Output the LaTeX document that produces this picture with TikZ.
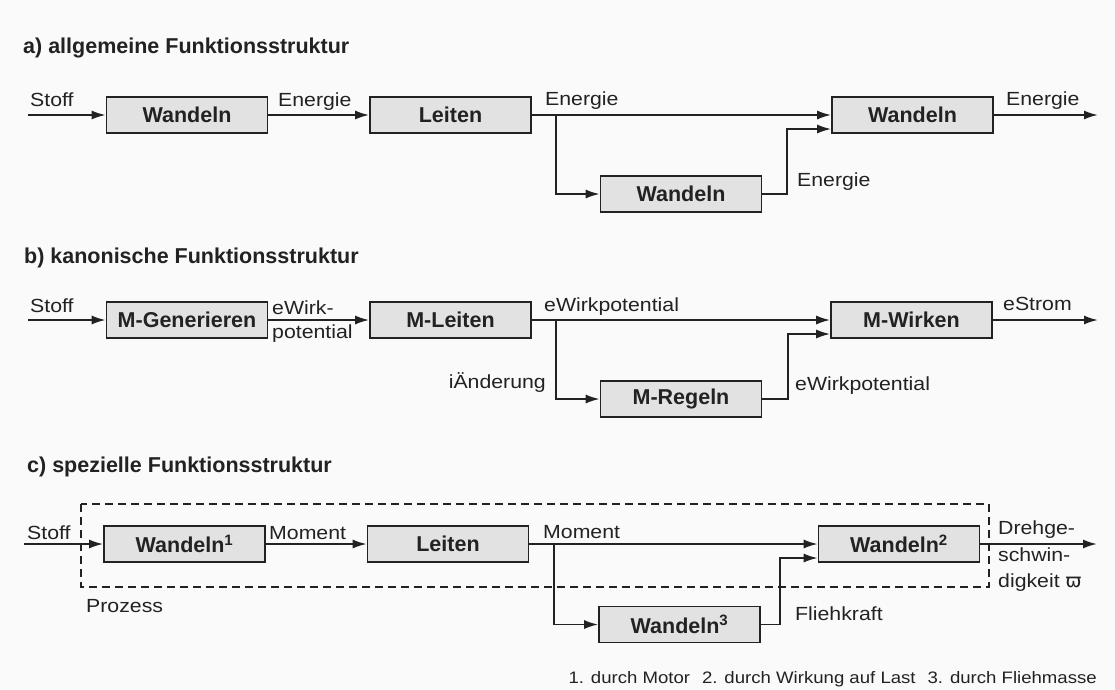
\documentclass[tikz,border=0pt]{standalone}
\usepackage{fontspec}
\setmainfont{Liberation Sans}
\newfontfamily\lblfont{Liberation Sans}[FakeStretch=1.12]
\newfontfamily\greekfont{DejaVu Sans}
\usetikzlibrary{arrows.meta,calc}

\definecolor{ink}{HTML}{222222}
\definecolor{boxfill}{HTML}{E2E2E2}
\definecolor{paper}{HTML}{FAFAFA}

\tikzset{
  fnbox/.style={draw=ink, line width=1.6pt, fill=boxfill, minimum width=161pt,
    minimum height=36pt, inner sep=0pt, text=ink,
    font=\fontsize{21.5}{26}\selectfont\bfseries},
  flow/.style={draw=ink, line width=1.9pt, -{Latex[length=14pt,width=9pt]}},
  lbl/.style={inner sep=0pt, text=ink, anchor=base west,
    font=\lblfont\fontsize{19}{23}\selectfont},
  note/.style={inner sep=0pt, text=ink, anchor=base east,
    font=\lblfont\fontsize{16.6}{20}\selectfont},
  heading/.style={inner sep=0pt, text=ink, anchor=base west,
    font=\fontsize{21.5}{26}\selectfont\bfseries},
  boundary/.style={draw=ink, line width=1.7pt, dash pattern=on 8pt off 5pt},
}

\begin{document}
\begin{tikzpicture}[x=1pt,y=-1pt]
\fill[paper] (0,0) rectangle (1115,689);
\useasboundingbox (0,0) rectangle (1115,689);

% ---------------- a) general function structure
\node[heading] (ta) at (23,53) {a) allgemeine Funktionsstruktur};
\node[fnbox] (a1) at (187,115) {Wandeln};
\node[fnbox] (a2) at (450.5,115) {Leiten};
\node[fnbox] (a3) at (912.5,115) {Wandeln};
\node[fnbox] (a4) at (681,194) {Wandeln};
\coordinate (a-in) at (28,115);
\coordinate (a-out) at (1098,115);
\coordinate (a-j) at (556,115);
\coordinate (a-r) at (787,0);
\coordinate (a-in2) at ($(a3.west)+(0,14)$);
\draw[flow] (a-in) -- (a1);
\draw[flow] (a1) -- (a2);
\draw[flow] (a2) -- (a3);
\draw[flow] (a3) -- (a-out);
\draw[flow] (a-j) |- (a4);
\draw[flow] (a4.east) -| (a-in2 -| a-r) -- (a-in2);
\node[lbl] (a-l1) at (30,106) {Stoff};
\node[lbl] (a-l2) at (278,106) {Energie};
\node[lbl] (a-l3) at (545,105) {Energie};
\node[lbl] (a-l4) at (1006,105) {Energie};
\node[lbl] (a-l5) at (797,186) {Energie};

% ---------------- b) canonical function structure
\node[heading] (tb) at (24,263) {b) kanonische Funktionsstruktur};
\node[fnbox] (b1) at (187,320) {M-Generieren};
\node[fnbox] (b2) at (450.5,320) {M-Leiten};
\node[fnbox] (b3) at (911.5,320) {M-Wirken};
\node[fnbox] (b4) at (681,399) {M-Regeln};
\coordinate (b-in) at (28,320);
\coordinate (b-out) at (1098,320);
\coordinate (b-j) at (556,320);
\coordinate (b-r) at (788,0);
\coordinate (b-in2) at ($(b3.west)+(0,14)$);
\draw[flow] (b-in) -- (b1);
\draw[flow] (b1) -- (b2);
\draw[flow] (b2) -- (b3);
\draw[flow] (b3) -- (b-out);
\draw[flow] (b-j) |- (b4);
\draw[flow] (b4.east) -| (b-in2 -| b-r) -- (b-in2);
\node[lbl] (b-l1) at (30,312) {Stoff};
\node[lbl] (b-l2) at (272,314) {eWirk-};
\node[lbl] (b-l3) at (272,338) {potential};
\node[lbl] (b-l4) at (544,311) {eWirkpotential};
\node[lbl] (b-l5) at (1003,310) {eStrom};
\node[lbl, anchor=base east] (b-l6) at (546,388) {iÄnderung};
\node[lbl] (b-l7) at (795,390) {eWirkpotential};

% ---------------- c) special function structure
\node[heading] (tc) at (27,472) {c) spezielle Funktionsstruktur};
\draw[boundary] (81,504) rectangle (989,587);
\node[fnbox] (c1) at (184.5,544) {Wandeln\textsuperscript{1}};
\node[fnbox] (c2) at (448,544) {Leiten};
\node[fnbox] (c3) at (899,544) {Wandeln\textsuperscript{2}};
\node[fnbox] (c4) at (679.5,624.5) {Wandeln\textsuperscript{3}};
\coordinate (c-in) at (24,544);
\coordinate (c-out) at (1097,544);
\coordinate (c-j) at (554,544);
\coordinate (c-r) at (780,0);
\coordinate (c-in2) at ($(c3.west)+(0,14)$);
\draw[flow] (c-in) -- (c1);
\draw[flow] (c1) -- (c2);
\draw[flow] (c2) -- (c3);
\draw[flow] (c3) -- (c-out);
\draw[flow] (c-j) |- (c4);
\draw[flow] (c4.east) -| (c-in2 -| c-r) -- (c-in2);
\node[lbl] (c-l1) at (27,539) {Stoff};
\node[lbl] (c-l2) at (269,539) {Moment};
\node[lbl] (c-l3) at (543,538) {Moment};
\node[lbl] (c-l4) at (86,612) {Prozess};
\node[lbl] (c-l5) at (795,620) {Fliehkraft};
\node[lbl] (c-l6) at (998,534) {Drehge-};
\node[lbl] (c-l7) at (998,561) {schwin-};
\node[lbl] (c-l8) at (998,587) {digkeit {\greekfont ϖ}};

\node[note] (fn) at (1097,683) {1. durch Motor\hspace*{12pt}2. durch Wirkung auf Last\hspace*{12pt}3. durch Fliehmasse};
\end{tikzpicture}
\end{document}
